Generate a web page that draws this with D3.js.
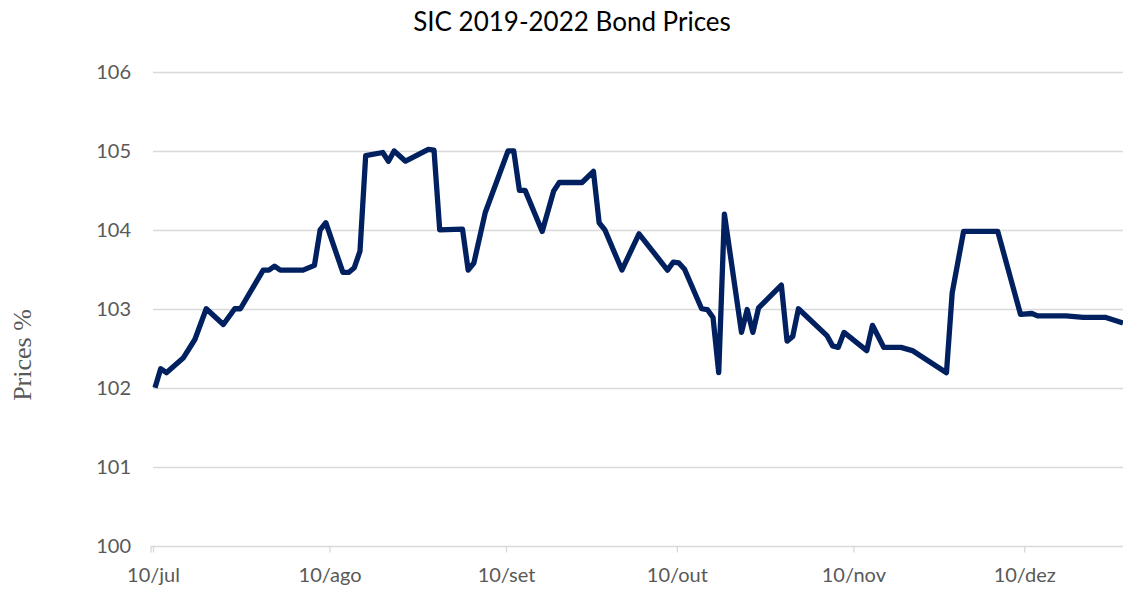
<!DOCTYPE html>
<html>
<head>
<meta charset="utf-8">
<script src="https://cdn.jsdelivr.net/npm/d3@7"></script>
<style>
  body { margin: 0; background: #fff; }
  svg { display: block; }
</style>
</head>
<body>
<script>
// Data (2019, business days)
var dates = ["2019-07-10","2019-07-11","2019-07-12","2019-07-15","2019-07-17","2019-07-19","2019-07-22","2019-07-24","2019-07-25",
  "2019-07-29","2019-07-30","2019-07-31","2019-08-01","2019-08-05","2019-08-07","2019-08-08","2019-08-09","2019-08-12",
  "2019-08-13","2019-08-14","2019-08-15","2019-08-16","2019-08-19","2019-08-20","2019-08-21","2019-08-23","2019-08-27",
  "2019-08-28","2019-08-29","2019-09-02","2019-09-03","2019-09-04","2019-09-06","2019-09-10","2019-09-11","2019-09-12",
  "2019-09-13","2019-09-16","2019-09-18","2019-09-19","2019-09-23","2019-09-25","2019-09-26","2019-09-27","2019-09-30",
  "2019-10-03","2019-10-08","2019-10-09","2019-10-10","2019-10-11","2019-10-14","2019-10-15","2019-10-16","2019-10-17",
  "2019-10-18","2019-10-21","2019-10-22","2019-10-23","2019-10-24","2019-10-28","2019-10-29","2019-10-30","2019-10-31",
  "2019-11-05","2019-11-06","2019-11-07","2019-11-08","2019-11-12","2019-11-13","2019-11-15","2019-11-18","2019-11-20",
  "2019-11-26","2019-11-27","2019-11-29","2019-12-05","2019-12-09","2019-12-11","2019-12-12","2019-12-17","2019-12-20",
  "2019-12-24","2019-12-27"];

var prices = [102.0, 102.24, 102.19, 102.38, 102.61, 103.0, 102.8, 103.0, 103.0,
  103.49, 103.49, 103.54, 103.49, 103.49, 103.55, 104.0, 104.09, 103.46,
  103.46, 103.52, 103.73, 104.94, 104.98, 104.87, 105.0, 104.87, 105.02,
  105.01, 104.0, 104.01, 103.49, 103.58, 104.22, 105.0, 105.0, 104.5,
  104.5, 103.98, 104.49, 104.6, 104.6, 104.74, 104.09, 104.0, 103.49,
  103.95, 103.49, 103.59, 103.58, 103.5, 103.0, 102.99, 102.89, 102.19,
  104.2, 102.7, 102.99, 102.7, 103.01, 103.3, 102.59, 102.65, 103.0,
  102.66, 102.53, 102.51, 102.7, 102.47, 102.79, 102.51, 102.51, 102.47,
  102.19, 103.2, 103.98, 103.98, 102.93, 102.94, 102.91, 102.91, 102.89,
  102.89, 102.82];

var xTicks = ["2019-07-10","2019-08-10","2019-09-10","2019-10-10","2019-11-10","2019-12-10"];
var monthNames = ["jan","fev","mar","abr","mai","jun","jul","ago","set","out","nov","dez"];
var yTicks = [100, 101, 102, 103, 104, 105, 106];

var parse = d3.timeParse("%Y-%m-%d");
var data = dates.map(function(d, i) { return {date: parse(d), value: prices[i]}; });

var width = 1123, height = 592;
var margin = {top: 72, right: 0, bottom: 46, left: 153};

var svg = d3.select("body").append("svg")
    .attr("width", width)
    .attr("height", height);

var x = d3.scaleTime()
    .domain([parse("2019-07-10"), parse("2019-12-27")])
    .range([margin.left + 2, width]);

var y = d3.scaleLinear()
    .domain([100, 106])
    .range([height - margin.bottom - 0.5, margin.top]);

// Gridlines
svg.append("g")
  .selectAll("line")
  .data(yTicks.slice(1))
  .enter().append("line")
    .attr("x1", margin.left)
    .attr("x2", width)
    .attr("y1", function(d) { return Math.round(y(d)) + 0.5; })
    .attr("y2", function(d) { return Math.round(y(d)) + 0.5; })
    .style("stroke", "#d9d9d9")
    .style("stroke-width", 1.3);

// Y axis labels
svg.append("g")
  .selectAll("text")
  .data(yTicks)
  .enter().append("text")
    .attr("x", 131)
    .attr("y", function(d) { return y(d); })
    .attr("dy", "0.35em")
    .attr("text-anchor", "end")
    .style("font-family", "Lato, sans-serif")
    .style("font-size", "20px")
    .style("fill", "#595959")
    .text(function(d) { return d; });

// X axis
var xAxis = d3.axisBottom(x)
    .tickValues(xTicks.map(parse))
    .tickSize(6)
    .tickPadding(15)
    .tickFormat(function(d) { return d.getDate() + "/" + monthNames[d.getMonth()]; });

var gx = svg.append("g")
    .attr("transform", "translate(-2," + (Math.round(y(100)) + 0.5) + ")")
    .call(xAxis);
gx.select(".domain")
    .attr("d", "M" + margin.left + ",6V0H" + (width + 2))
    .style("stroke", "#d9d9d9")
    .style("stroke-width", 1.3);
gx.selectAll(".tick line").style("stroke", "#d9d9d9").style("stroke-width", 1.3);
gx.selectAll(".tick text")
    .style("font-family", "Lato, sans-serif")
    .style("font-size", "20px")
    .style("fill", "#595959");

// Line
var line = d3.line()
    .x(function(d) { return x(d.date); })
    .y(function(d) { return y(d.value); });

svg.append("path")
    .datum(data)
    .attr("d", line)
    .style("fill", "none")
    .style("stroke", "#002060")
    .style("stroke-width", 5.3)
    .style("stroke-linejoin", "round");

// Title
svg.append("text")
    .attr("x", 572)
    .attr("y", 31)
    .attr("text-anchor", "middle")
    .style("font-family", "Lato, sans-serif")
    .style("font-size", "26px")
    .style("fill", "#000")
    .text("SIC 2019-2022 Bond Prices");

// Y axis title
svg.append("text")
    .attr("transform", "translate(31,355) rotate(-90)")
    .attr("text-anchor", "middle")
    .style("font-family", "'Liberation Serif', serif")
    .style("font-size", "26px")
    .style("fill", "#595959")
    .text("Prices %");
</script>
</body>
</html>
